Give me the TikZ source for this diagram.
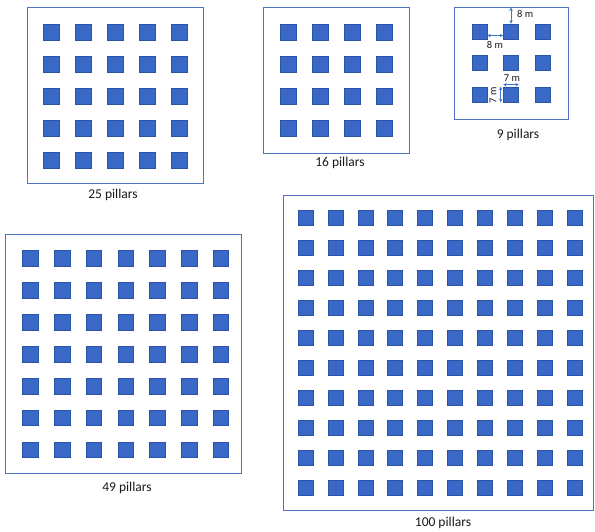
\documentclass[tikz,border=0pt]{standalone}
\usepackage{fontspec}
\setmainfont{Carlito}
\usetikzlibrary{arrows.meta}
\definecolor{pfill}{HTML}{3A68C6}
\definecolor{pline}{HTML}{2C54A6}
\definecolor{bline}{HTML}{4F74BE}
\definecolor{aline}{HTML}{3A78D0}
\tikzset{
  pillar/.style={draw=pline, fill=pfill, line width=0.6pt, minimum size=#1, inner sep=0pt},
  pillar/.default=15pt,
  frame/.style={draw=bline, line width=1pt},
  caplabel/.style={font=\fontsize{13.5}{15}\selectfont, text=black!90},
  dimline/.style={draw=aline, line width=0.8pt, {Stealth[length=3.5pt,width=3.5pt]}-{Stealth[length=3.5pt,width=3.5pt]}},
  dimlab/.style={font=\fontsize{10.5}{12}\selectfont, text=black!90, inner sep=1pt}
}
\begin{document}
\begin{tikzpicture}[x=1pt,y=-1pt]
\useasboundingbox (0,0) rectangle (595,531);
% frames
\draw[frame] (27,7) rectangle (203,183);
\draw[frame] (263,7) rectangle (409,153);
\draw[frame] (454,7) rectangle (568,119);
\draw[frame] (5,234) rectangle (241,473);
\draw[frame] (283,195) rectangle (593,510);
% 25 pillars
\foreach \i in {0,...,4}{\foreach \j in {0,...,4}{
  \node[pillar=16pt] (a\i\j) at ({51+32*\i},{32+32*\j}) {};}}
% 16 pillars
\foreach \i in {0,...,3}{\foreach \j in {0,...,3}{
  \node[pillar=16pt] (b\i\j) at ({288+32*\i},{32+32*\j}) {};}}
% 9 pillars
\foreach \i in {0,...,2}{\foreach \j in {0,...,2}{
  \node[pillar=15pt] (c\i\j) at ({479.5+31.5*\i},{31.5+31.5*\j}) {};}}
% 49 pillars
\foreach \i in {0,...,6}{\foreach \j in {0,...,6}{
  \node[pillar=15.5pt] (d\i\j) at ({30.5+31.75*\i},{258.5+31.9*\j}) {};}}
% 100 pillars
\foreach \i in {0,...,9}{\foreach \j in {0,...,9}{
  \node[pillar=15pt] (e\i\j) at ({305.5+29.9*\i},{217.5+30*\j}) {};}}
% captions
\node[caplabel] (l25) at (113,195) {25 pillars};
\node[caplabel] (l16) at (340,163) {16 pillars};
\node[caplabel] (l9) at (518,135) {9 pillars};
\node[caplabel] (l49) at (127,488) {49 pillars};
\node[caplabel] (l100) at (443,523) {100 pillars};
% dimensions
\coordinate (ftop) at (511,7.5);
\draw[dimline] (ftop) -- (ftop |- c10.north);
\node[dimlab, anchor=west] at (516,14) {8 m};
\draw[dimline] ([yshift=-4pt]c00.east) -- ([yshift=-4pt]c10.west);
\node[dimlab] at (495,45) {8 m};
\draw[dimline] ([yshift=2pt]c12.north west) -- ([yshift=2pt]c12.north east);
\node[dimlab] at (512,78) {7 m};
\draw[dimline] ([xshift=-2.5pt]c12.north west) -- ([xshift=-2.5pt]c12.south west);
\node[dimlab, rotate=90] at (493,95) {7 m};
\end{tikzpicture}
\end{document}
